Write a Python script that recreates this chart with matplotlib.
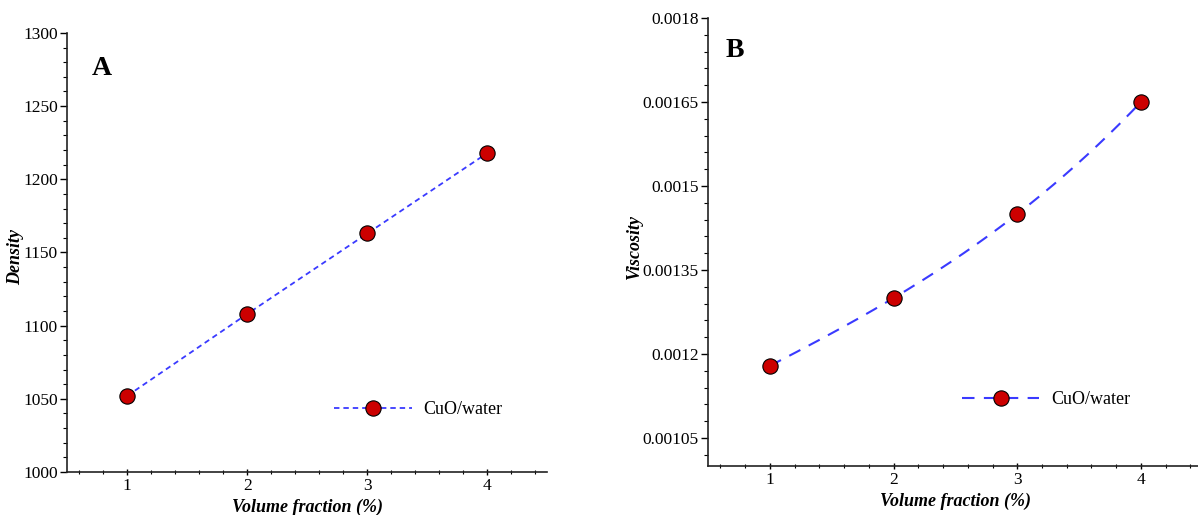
import numpy as np
import matplotlib
matplotlib.use("Agg")
import matplotlib.pyplot as plt
from matplotlib.ticker import MultipleLocator, FixedLocator, FuncFormatter

# data
volume_fraction = [1, 2, 3, 4]
density = [1052, 1108, 1163, 1218]
viscosity = [0.001179, 0.0013, 0.00145, 0.00165]
series_label = "CuO/water"

plt.rcParams["font.family"] = ["Liberation Serif", "DejaVu Serif"]
plt.rcParams["font.size"] = 13

line_col = "#3a3aff"
face_col = "#cc0000"


def style_axes(ax):
    for side in ("top", "right"):
        ax.spines[side].set_visible(False)
    for side in ("left", "bottom"):
        ax.spines[side].set_linewidth(1.2)
        ax.spines[side].set_color("#222222")
    ax.set_xlim(0.5, 4.5)
    ax.xaxis.set_major_locator(FixedLocator(volume_fraction))
    ax.xaxis.set_minor_locator(MultipleLocator(0.2))
    ax.tick_params(which="major", direction="out", length=5, width=1,
                   labelsize=12.5, pad=1.5)
    ax.tick_params(which="minor", direction="out", length=3, width=0.8)
    ax.tick_params(axis="x", which="both", direction="inout", pad=2)
    ax.set_xlabel("Volume fraction (%)", fontsize=13, fontweight="bold",
                  fontstyle="italic", labelpad=3)


fig = plt.figure(figsize=(11.98, 5.15), dpi=100)

# panel A: density
axA = fig.add_axes([0.056, 0.0835, 0.401, 0.8525])
style_axes(axA)
axA.plot(volume_fraction, density, color=line_col, lw=1.3, dashes=(3, 2.2),
         marker="o", ms=11, mfc=face_col, mec="black", mew=0.8,
         label=series_label, zorder=3)
axA.set_ylim(1000, 1300)
axA.yaxis.set_major_locator(MultipleLocator(50))
axA.yaxis.set_minor_locator(MultipleLocator(10))
axA.set_ylabel("Density", fontsize=13, fontweight="bold", fontstyle="italic")
axA.yaxis.set_label_coords(-0.089, 0.49)
axA.text(0.052, 0.92, "A", transform=axA.transAxes, fontsize=20,
         fontweight="bold", va="center", ha="left")
axA.legend(loc="center left", bbox_to_anchor=(0.522, 0.142), frameon=False,
           numpoints=1, handlelength=4.3, handletextpad=0.65, fontsize=13)

# panel B: viscosity, smooth curve through the points
axB = fig.add_axes([0.591, 0.095, 0.413, 0.87])
style_axes(axB)
coef = np.polyfit(volume_fraction, viscosity, 3)
xs = np.linspace(volume_fraction[0], volume_fraction[-1], 200)
axB.plot(xs, np.polyval(coef, xs), color=line_col, lw=1.5, dashes=(6, 4.5),
         zorder=2)
axB.plot(volume_fraction, viscosity, ls="none", marker="o", ms=11,
         mfc=face_col, mec="black", mew=0.8, zorder=3)
# legend proxy combining line and marker
axB.plot([], [], color=line_col, lw=1.5, dashes=(6, 4.5), marker="o", ms=11,
         mfc=face_col, mec="black", mew=0.8, label=series_label)
axB.set_ylim(0.0010, 0.0018)
axB.yaxis.set_major_locator(FixedLocator([0.00105, 0.0012, 0.00135, 0.0015,
                                          0.00165, 0.0018]))
axB.yaxis.set_minor_locator(MultipleLocator(0.00003))
axB.yaxis.set_major_formatter(FuncFormatter(lambda v, p: "{:g}".format(round(v, 6))))
axB.set_ylabel("Viscosity", fontsize=13, fontweight="bold", fontstyle="italic")
axB.yaxis.set_label_coords(-0.131, 0.49)
axB.text(0.035, 0.928, "B", transform=axB.transAxes, fontsize=20,
         fontweight="bold", va="center", ha="left")
axB.legend(loc="center left", bbox_to_anchor=(0.48, 0.148), frameon=False,
           numpoints=1, handlelength=4.3, handletextpad=0.65, fontsize=13)

fig.savefig("out.png", dpi=100)
